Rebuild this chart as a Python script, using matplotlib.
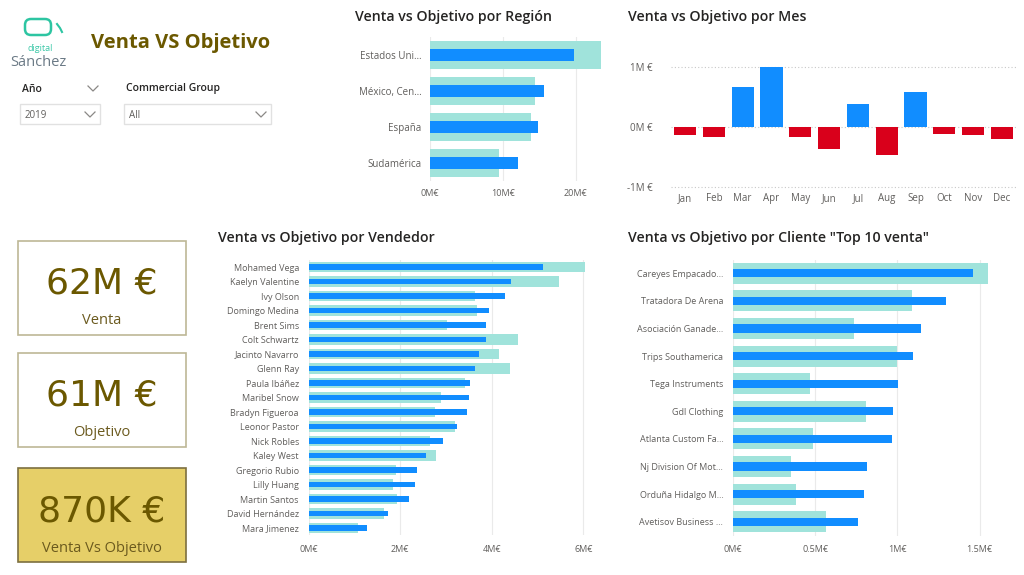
import matplotlib.pyplot as plt
import numpy as np
from matplotlib.patches import Rectangle, FancyBboxPatch

# ---- data ----
regiones = ['Estados Uni…', 'México, Cen…', 'España', 'Sudamérica']
reg_venta = [19.7e6, 15.6e6, 14.8e6, 12.1e6]
reg_obj = [23.4e6, 14.4e6, 13.9e6, 9.5e6]

meses = ['Jan', 'Feb', 'Mar', 'Apr', 'May', 'Jun', 'Jul', 'Aug', 'Sep', 'Oct', 'Nov', 'Dec']
mes_diff = [-0.13e6, -0.16e6, 0.67e6, 1.0e6, -0.17e6, -0.37e6, 0.39e6, -0.46e6, 0.58e6, -0.12e6, -0.14e6, -0.20e6]

vendedores = ['Mohamed Vega', 'Kaelyn Valentine', 'Ivy Olson', 'Domingo Medina', 'Brent Sims',
              'Colt Schwartz', 'Jacinto Navarro', 'Glenn Ray', 'Paula Ibáñez', 'Maribel Snow',
              'Bradyn Figueroa', 'Leonor Pastor', 'Nick Robles', 'Kaley West', 'Gregorio Rubio',
              'Lilly Huang', 'Martin Santos', 'David Hernández', 'Mara Jimenez']
ven_venta = [5.12, 4.41, 4.28, 3.93, 3.88, 3.88, 3.72, 3.64, 3.53, 3.51, 3.47, 3.23, 2.93,
             2.57, 2.36, 2.33, 2.20, 1.74, 1.28]
ven_obj = [6.04, 5.48, 3.64, 3.68, 3.02, 4.57, 4.16, 4.39, 3.41, 2.90, 2.77, 3.19, 2.66,
           2.79, 1.90, 1.85, 1.93, 1.64, 1.07]

clientes = ['Careyes Empacado…', 'Tratadora De Arena', 'Asociación Ganade…', 'Trips Southamerica',
            'Tega Instruments', 'Gdl Clothing', 'Atlanta Custom Fa…', 'Nj Division Of Mot…',
            'Orduña Hidalgo M…', 'Avetisov Business …']
cli_venta = [1.458, 1.296, 1.146, 1.097, 1.004, 0.972, 0.968, 0.815, 0.795, 0.761]
cli_obj = [1.554, 1.087, 0.736, 1.000, 0.469, 0.807, 0.485, 0.351, 0.381, 0.564]

kpi_vals = ['62M €', '61M €', '870K €']
kpi_names = ['Venta', 'Objetivo', 'Venta Vs Objetivo']

BLUE = '#118DFF'
TEAL = '#A0E3DB'
RED = '#D9001B'
OLIVE = '#6B5800'
TITLE = '#252423'
GRAY = '#605E5C'

plt.rcParams['font.family'] = ['Open Sans', 'DejaVu Sans']

W, H = 1024, 575
fig = plt.figure(figsize=(W / 100, H / 100), dpi=100)
fig.patch.set_facecolor('white')


def px_axes(x0, y0, x1, y1):
    return fig.add_axes([x0 / W, 1 - y1 / H, (x1 - x0) / W, (y1 - y0) / H])


def ftext(x, y, s, **kw):
    fig.text(x / W, 1 - y / H, s, **kw)


def hbar_chart(ax, labels, venta, obj, xmax, ticks, ticklabels, hb, hs, lsize, pad_y, pad_x):
    pos = np.arange(len(labels))
    ax.barh(pos, obj, height=hb, color=TEAL, zorder=2)
    ax.barh(pos, venta, height=hs, color=BLUE, zorder=3)
    ax.set_ylim(len(labels) - 0.5, -0.5)
    ax.set_xlim(0, xmax)
    ax.set_yticks(pos)
    ax.set_yticklabels(labels, fontsize=lsize, color=GRAY)
    ax.set_xticks(ticks)
    ax.set_xticklabels(ticklabels, fontsize=6.5, color=GRAY)
    ax.tick_params(length=0)
    ax.tick_params(axis='y', pad=pad_y)
    ax.tick_params(axis='x', pad=pad_x)
    ax.grid(axis='x', color='#EAEAEA', lw=0.8, zorder=0)
    for s in ax.spines.values():
        s.set_visible(False)


# ---- región ----
ax1 = px_axes(430, 37, 602, 181)
hbar_chart(ax1, regiones, reg_venta, reg_obj, 23.6e6, [0, 10e6, 20e6],
           ['0M€', '10M€', '20M€'], 0.78, 0.33, 7, 6, 6)
ftext(355, 17, 'Venta vs Objetivo por Región', fontsize=10.2, fontweight='semibold',
      color=TITLE, va='center')

# ---- mes ----
ax2 = px_axes(670.6, 61, 1016.4, 193)
cols = [BLUE if v >= 0 else RED for v in mes_diff]
ax2.bar(np.arange(len(meses)), mes_diff, width=0.77, color=cols, zorder=3)
ax2.set_xlim(-0.5, len(meses) - 0.5)
ax2.set_ylim(-1.1e6, 1.1e6)
ax2.set_yticks([-1e6, 0, 1e6])
ax2.set_yticklabels(['-1M €', '0M €', '1M €'], fontsize=7, color=GRAY)
ax2.set_xticks(np.arange(len(meses)))
ax2.set_xticklabels(meses, fontsize=7, color=GRAY)
ax2.tick_params(length=0)
ax2.tick_params(axis='y', pad=13)
ax2.tick_params(axis='x', pad=0)
ax2.grid(axis='y', color='#C8C8C8', lw=0.8, ls=(0, (1, 2)), zorder=0)
for s in ax2.spines.values():
    s.set_visible(False)
ftext(628, 17, 'Venta vs Objetivo por Mes', fontsize=10.2, fontweight='semibold',
      color=TITLE, va='center')

# ---- vendedor ----
ax3 = px_axes(308.7, 259.8, 597, 535.3)
hbar_chart(ax3, vendedores, ven_venta, ven_obj, 6.3, [0, 2, 4, 6],
           ['0M€', '2M€', '4M€', '6M€'], 0.72, 0.36, 6.5, 7, 7)
ftext(218, 238, 'Venta vs Objetivo por Vendedor', fontsize=10.2, fontweight='semibold',
      color=TITLE, va='center')

# ---- cliente ----
ax4 = px_axes(733, 259.5, 996, 535.5)
hbar_chart(ax4, clientes, cli_venta, cli_obj, 1.6, [0, 0.5, 1.0, 1.5],
           ['0M€', '0.5M€', '1M€', '1.5M€'], 0.76, 0.3, 6.5, 7, 7)
ftext(628, 238, 'Venta vs Objetivo por Cliente "Top 10 venta"', fontsize=10.2,
      fontweight='semibold', color=TITLE, va='center')

# ---- header ----
ftext(91, 43, 'Venta VS Objetivo', fontsize=14.5, fontweight='bold', color=OLIVE, va='center')

deco = fig.add_axes([0, 0, 1, 1], zorder=-1)
deco.set_xlim(0, W)
deco.set_ylim(H, 0)
deco.axis('off')

# logo
deco.add_patch(FancyBboxPatch((25, 19), 26, 16, boxstyle='round,pad=0,rounding_size=6',
                              fill=False, ec='#2DC5A2', lw=1.8))
deco.plot([57, 60, 62], [24, 28, 32], color='#2DC5A2', lw=1.5)
ftext(40, 48.5, 'digital', fontsize=6.5, color='#3CC8A8', ha='center', va='center')
ftext(38, 62, 'Sánchez', fontsize=10.5, color='#6B7A86', ha='center', va='center')

# slicers
ftext(22, 89, 'Año', fontsize=7.5, color=TITLE, va='center', fontweight='semibold')
ftext(126, 89, 'Commercial Group', fontsize=7.5, color=TITLE, va='center', fontweight='semibold')
for x0, x1, txt in [(20, 100, '2019'), (124, 271, 'All')]:
    deco.add_patch(Rectangle((x0, 104), x1 - x0, 20, fill=False, ec='#E1E1E1', lw=1))
    ftext(x0 + 5, 115, txt, fontsize=7, color=GRAY, va='center')
    cx = x1 - 10
    deco.plot([cx - 5, cx, cx + 5], [112, 117, 112], color='#8A8886', lw=0.9)
deco.plot([88, 93, 98], [86, 91, 86], color='#8A8886', lw=0.9)

# KPI cards
card_tops = [241, 353, 468]
for i, top in enumerate(card_tops):
    last = i == 2
    deco.add_patch(Rectangle((18, top), 168, 94,
                             fc='#E6CF68' if last else 'white',
                             ec='#7D7040' if last else '#BDB796', lw=1.2))
    ftext(102, top + 43, kpi_vals[i], fontsize=26, color=OLIVE, ha='center', va='center',
          family=['DejaVu Sans'])
    ftext(102, top + 80, kpi_names[i], fontsize=10.5, color='#6B5A1E', ha='center', va='center')

fig.savefig('out.png', dpi=100)
